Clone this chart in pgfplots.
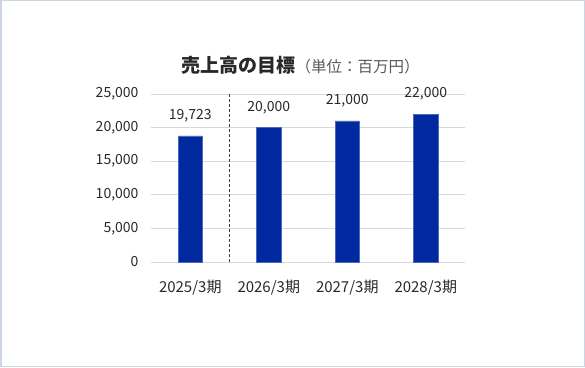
\documentclass[border=0pt]{standalone}
\usepackage{pgfplots}
\pgfplotsset{compat=1.18}
\usepackage{fontspec}
\setmainfont{Noto Sans CJK JP}
\definecolor{barblue}{RGB}{0,41,160}
\definecolor{txt}{RGB}{40,40,40}
\definecolor{gridc}{RGB}{217,217,217}
\definecolor{frame}{RGB}{205,213,228}
\begin{document}
\begin{tikzpicture}[x=1bp,y=1bp]
\draw[frame, line width=1.5bp] (0.75,0.75) rectangle (584.25,366.25);
\node[text=txt, inner sep=0pt] at (300.5,302) {\fontsize{19bp}{21bp}\selectfont\bfseries 売上高の目標\fontsize{15.5bp}{17bp}\selectfont\mdseries\color{black!65}（単位：百万円）};
\begin{axis}[
  at={(151bp,105bp)}, anchor=south west,
  scale only axis, width=314bp, height=168bp,
  ymin=0, ymax=25000, ytick={0,5000,...,25000},
  xmin=-0.5, xmax=3.5, xtick={0,1,2,3},
  xticklabels={2025/3期,2026/3期,2027/3期,2028/3期},
  axis line style={draw=none},
  major tick length=0pt,
  ymajorgrids, grid style={gridc, line width=0.8bp},
  /pgf/number format/assume math mode=true,
  /pgf/number format/1000 sep={,},
  scaled y ticks=false,
  yticklabel style={font=\fontsize{14bp}{16bp}\selectfont, text=txt, xshift=-9bp},
  xticklabel style={font=\fontsize{15bp}{17bp}\selectfont, text=txt, yshift=-15bp},
  ybar, bar width=0.31,
  nodes near coords,
  point meta=explicit symbolic,
  every node near coord/.append style={font=\fontsize{14bp}{16bp}\selectfont, text=txt, anchor=center, yshift=20bp},
]
\addplot[fill=barblue, draw=barblue!70!white, line width=0.5bp, bar shift=0pt] coordinates {
  (0,18750) [19,723]
  (1,20000) [20,000]
  (2,21000) [21,000]
  (3,22000) [22,000]
};
\draw[black!75, line width=1bp, dash pattern=on 3bp off 2bp] (axis cs:0.5,0) -- (axis cs:0.5,25000);
\end{axis}
\end{tikzpicture}
\end{document}
